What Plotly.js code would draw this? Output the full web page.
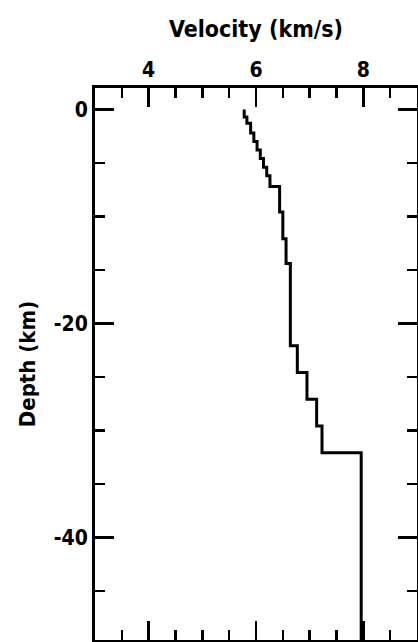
<!DOCTYPE html>
<html>
<head>
<meta charset="utf-8">
<script src="https://cdn.plot.ly/plotly-3.0.1.min.js"></script>
<style>
  html, body { margin: 0; padding: 0; background: #fff; }
  #chart { width: 418px; height: 642px; }
</style>
</head>
<body>
<div id="chart"></div>
<script>
// Layered crustal velocity model: top depth of each layer (km) and its P velocity (km/s)
const layerTop = [0, 0.7, 1.3, 2.2, 3.0, 3.8, 4.6, 5.4, 6.2, 7.2, 9.6, 12.1, 14.4, 22.1, 24.6, 27.1, 29.6, 32.1];
const layerVel = [5.78, 5.83, 5.90, 5.96, 6.02, 6.08, 6.14, 6.20, 6.26, 6.44, 6.50, 6.56, 6.64, 6.77, 6.95, 7.13, 7.23, 7.96];
const modelBottom = 50;

const xTickVals = [4, 6, 8];
const yTickVals = [0, -20, -40];
const yTickText = ["0", "-20", "-40"];

// Staircase profile: each layer holds its velocity down to the next boundary
const xs = layerVel.concat([layerVel[layerVel.length - 1]]);
const ys = layerTop.map(d => -d).concat([-modelBottom]);

const FONT = "'Liberation Sans Narrow', 'DejaVu Sans Condensed', 'Arial Narrow', sans-serif";

const trace = {
  x: xs,
  y: ys,
  type: "scatter",
  mode: "lines",
  line: { shape: "vh", color: "#000", width: 3 },
  hoverinfo: "skip"
};

const layout = {
  width: 418,
  height: 642,
  margin: { l: 95, r: 1, t: 88, b: 2, pad: 0 },
  paper_bgcolor: "#fff",
  plot_bgcolor: "#fff",
  showlegend: false,
  font: { family: FONT, color: "#000", size: 21, weight: "bold" },
  xaxis: {
    side: "top",
    range: [3, 9],
    tickvals: xTickVals,
    ticks: "inside",
    ticklen: 19,
    tickwidth: 2.5,
    tickcolor: "#000",
    minor: { dtick: 0.5, tick0: 0, ticks: "inside", ticklen: 10, tickwidth: 2.5, tickcolor: "#000" },
    showline: true,
    linewidth: 3,
    linecolor: "#000",
    mirror: "allticks",
    showgrid: false,
    zeroline: false,
    tickfont: { family: FONT, size: 21, color: "#000", weight: "bold" },
    title: { text: "Velocity (km/s)", font: { family: FONT, size: 23, color: "#000", weight: "bold" }, standoff: 14 },
    fixedrange: true
  },
  yaxis: {
    range: [-49.6, 2],
    tickvals: yTickVals,
    ticktext: yTickText,
    ticks: "inside",
    ticklen: 19,
    tickwidth: 2.5,
    tickcolor: "#000",
    minor: { dtick: 5, tick0: 0, ticks: "inside", ticklen: 10, tickwidth: 2.5, tickcolor: "#000" },
    showline: true,
    linewidth: 3,
    linecolor: "#000",
    mirror: "allticks",
    showgrid: false,
    zeroline: false,
    tickfont: { family: FONT, size: 21, color: "#000", weight: "bold" },
    title: { text: "Depth (km)", font: { family: FONT, size: 22, color: "#000", weight: "bold" }, standoff: 12 },
    fixedrange: true
  }
};

Plotly.newPlot("chart", [trace], layout, { displayModeBar: false, staticPlot: true });
</script>
</body>
</html>
